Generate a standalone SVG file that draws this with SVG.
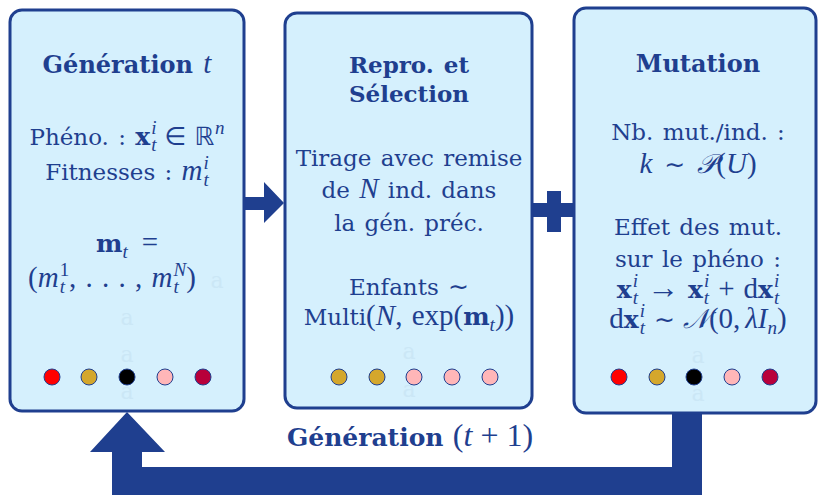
<svg xmlns="http://www.w3.org/2000/svg" width="818" height="495" viewBox="0 0 818 495">
  <style>
    .box { fill: #d5f0fd; stroke: #1f3f8f; stroke-width: 3; }
    .tx { font-family: "DejaVu Serif", serif; font-size: 23px; fill: #1f3f8f; text-anchor: middle; word-spacing: 2px; }
    .b { font-weight: bold; font-size: 24px; }
    .mi { font-family: "Liberation Serif", serif; font-style: italic; font-size: 29px; font-weight: normal; }
    .mr { font-family: "Liberation Serif", serif; font-style: normal; font-size: 29px; font-weight: normal; }
    .mb { font-family: "DejaVu Serif", serif; font-style: normal; font-size: 25px; font-weight: bold; }
    .sym { font-family: "DejaVu Sans", sans-serif; font-style: normal; font-size: 25px; font-weight: normal; }
    .sc { font-family: "DejaVu Serif", "Liberation Serif", serif; font-style: italic; font-size: 27px; font-weight: normal; }
    .sp { font-family: "Liberation Serif", serif; font-style: italic; font-size: 19px; font-weight: normal; }
    .spr { font-family: "Liberation Serif", serif; font-style: normal; font-size: 19px; font-weight: normal; }
    .ghost { font-family: "DejaVu Serif", serif; font-size: 22px; fill: #cbe7f6; text-anchor: middle; }
    .dot { stroke: #1f3f8f; stroke-width: 1; }
    .conn { fill: #1f3f8f; }
  </style>

  <!-- connectors -->
  <g id="connectors" class="conn">
    <!-- generation t to reproduction -->
    <path d="M244,197 H264 V182 L284,203 L264,223 V210 H244 Z"/>
    <!-- reproduction joined to mutation -->
    <rect x="532" y="203" width="42" height="14"/>
    <rect x="547" y="191" width="14" height="41"/>
    <!-- loop back to the next generation -->
    <path d="M672,413 H702 V498 H112 V452 H90 L127,412 L165,452 H142 V467 H672 Z"/>
  </g>

  <text class="tx" x="410" y="446"><tspan class="b" style="font-size:25px">Génération</tspan> <tspan class="mr" style="font-size:32px">(</tspan><tspan class="mi" style="font-size:32px">t</tspan><tspan class="mr" style="font-size:32px" dx="8">+</tspan><tspan class="mr" style="font-size:32px" dx="8">1)</tspan></text>

  <!-- generation t -->
  <g id="node-generation">
    <rect class="box" x="10" y="10" width="234" height="401" rx="12"/>
    <text class="tx b" x="127" y="73">Génération <tspan class="mi">t</tspan></text>
    <text class="tx" x="127" y="145">Phéno. : <tspan class="mb">x</tspan><tspan class="sp" dx="1" dy="-11">i</tspan><tspan class="sp" dx="-5.3" dy="17">t</tspan><tspan class="sym" dx="8" dy="-6">∈</tspan><tspan class="sym" dx="8">ℝ</tspan><tspan class="sp" dx="1" dy="-11">n</tspan></text>
    <text class="tx" x="127" y="180">Fitnesses : <tspan class="mi">m</tspan><tspan class="sp" dx="1" dy="-11">i</tspan><tspan class="sp" dx="-5.3" dy="17">t</tspan></text>
    <text class="tx" x="127" y="252"><tspan class="mb">m</tspan><tspan class="sp" dy="6">t</tspan><tspan class="mr" dx="14" dy="-6">=</tspan></text>
    <text class="tx" x="112" y="287"><tspan class="mr">(</tspan><tspan class="mi">m</tspan><tspan class="spr" dx="1" dy="-11">1</tspan><tspan class="sp" dx="-9.5" dy="17">t</tspan><tspan class="mr" dx="4.2" dy="-6">, . . . , </tspan><tspan class="mi">m</tspan><tspan class="sp" dx="1" dy="-11">N</tspan><tspan class="sp" dx="-12.7" dy="17">t</tspan><tspan class="mr" dx="7.5" dy="-6">)</tspan></text>
    <text class="ghost" x="217" y="288">a</text>
    <text class="ghost" x="127" y="325">a</text>
    <text class="ghost" x="127" y="362">a</text>
    <text class="ghost" x="127" y="399">a</text>
    <circle class="dot" cx="52" cy="377" r="8" fill="#ff0000"/>
    <circle class="dot" cx="89" cy="377" r="8" fill="#d4a72c"/>
    <circle class="dot" cx="127" cy="377" r="8" fill="#000000"/>
    <circle class="dot" cx="165" cy="377" r="8" fill="#ffb6b8"/>
    <circle class="dot" cx="203" cy="377" r="8" fill="#b8003a"/>
  </g>

  <!-- reproduction and selection -->
  <g id="node-selection">
    <rect class="box" x="285" y="13" width="247" height="395" rx="12"/>
    <text class="tx b" x="409" y="73" style="font-size:23px">Repro. et</text>
    <text class="tx b" x="409" y="102" style="font-size:23px">Sélection</text>
    <text class="tx" x="409" y="166">Tirage avec remise</text>
    <text class="tx" x="409" y="198">de <tspan class="mi">N</tspan> ind. dans</text>
    <text class="tx" x="409" y="231">la gén. préc.</text>
    <text class="tx" x="409" y="295">Enfants <tspan class="sym">∼</tspan></text>
    <text class="tx" x="409" y="325">Multi<tspan class="mr">(</tspan><tspan class="mi">N</tspan><tspan class="mr">, exp(</tspan><tspan class="mb">m</tspan><tspan class="sp" dy="6">t</tspan><tspan class="mr" dy="-6">))</tspan></text>
    <text class="ghost" x="409" y="359">a</text>
    <text class="ghost" x="409" y="397">a</text>
    <circle class="dot" cx="339" cy="377" r="8" fill="#d4a72c"/>
    <circle class="dot" cx="377" cy="377" r="8" fill="#d4a72c"/>
    <circle class="dot" cx="414" cy="377" r="8" fill="#ffb6b8"/>
    <circle class="dot" cx="452" cy="377" r="8" fill="#ffb6b8"/>
    <circle class="dot" cx="490" cy="377" r="8" fill="#ffb6b8"/>
  </g>

  <!-- mutation -->
  <g id="node-mutation">
    <rect class="box" x="574" y="8" width="242" height="405" rx="12"/>
    <text class="tx b" x="698" y="72">Mutation</text>
    <text class="tx" x="698" y="140">Nb. mut./ind. :</text>
    <text class="tx" x="698" y="173"><tspan class="mi">k</tspan><tspan class="sym" dx="12">∼</tspan><tspan class="sc" dx="12">𝒫</tspan><tspan class="mr">(</tspan><tspan class="mi">U</tspan><tspan class="mr">)</tspan></text>
    <text class="tx" x="698" y="235">Effet des mut.</text>
    <text class="tx" x="698" y="267">sur le phéno :</text>
    <text class="tx" x="698" y="298"><tspan class="mb">x</tspan><tspan class="sp" dx="1" dy="-11">i</tspan><tspan class="sp" dx="-5.3" dy="17">t</tspan><tspan class="mr" dx="9" dy="-6" style="font-size:32px">→</tspan><tspan class="mb" dx="9">x</tspan><tspan class="sp" dx="1" dy="-11">i</tspan><tspan class="sp" dx="-5.3" dy="17">t</tspan><tspan class="mr" dx="9" dy="-6">+</tspan><tspan class="mr" dx="9">d</tspan><tspan class="mb">x</tspan><tspan class="sp" dx="1" dy="-11">i</tspan><tspan class="sp" dx="-5.3" dy="17">t</tspan></text>
    <text class="tx" x="698" y="328"><tspan class="mr">d</tspan><tspan class="mb">x</tspan><tspan class="sp" dx="1" dy="-11">i</tspan><tspan class="sp" dx="-5.3" dy="17">t</tspan><tspan class="sym" dx="9" dy="-6">∼</tspan><tspan class="sc" dx="8">𝒩</tspan><tspan class="mr">(0,</tspan><tspan class="mi" dx="5">λI</tspan><tspan class="sp" dy="6">n</tspan><tspan class="mr" dy="-6">)</tspan></text>
    <text class="ghost" x="698" y="363">a</text>
    <text class="ghost" x="698" y="401">a</text>
    <circle class="dot" cx="619" cy="377" r="8" fill="#ff0000"/>
    <circle class="dot" cx="657" cy="377" r="8" fill="#d4a72c"/>
    <circle class="dot" cx="694" cy="377" r="8" fill="#000000"/>
    <circle class="dot" cx="732" cy="377" r="8" fill="#ffb6b8"/>
    <circle class="dot" cx="770" cy="377" r="8" fill="#b8003a"/>
  </g>
</svg>
